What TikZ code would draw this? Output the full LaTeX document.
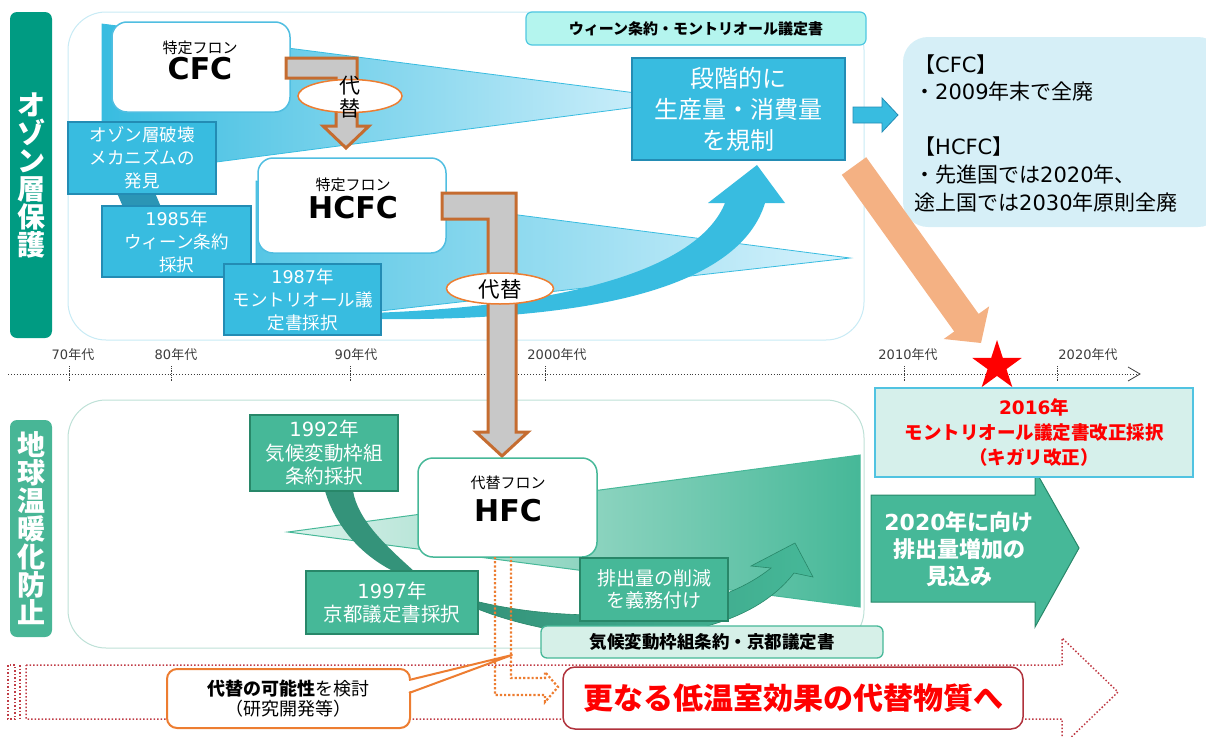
\documentclass[tikz,border=0pt]{standalone}
\usepackage{fontspec}
\setmainfont{Noto Sans CJK JP}
\newfontfamily\lat{DejaVu Sans}
\usetikzlibrary{shapes.geometric}
\newcommand\fsz[2]{\fontsize{#1}{#2}\selectfont}
\newcommand\la[1]{{\lat #1}}
\definecolor{tealD}{RGB}{0,155,130}
\definecolor{grnLab}{RGB}{72,182,150}
\definecolor{blueF}{RGB}{56,188,224}
\definecolor{blueB}{RGB}{35,140,180}
\definecolor{blueDark}{RGB}{43,149,181}
\definecolor{blueLt}{RGB}{215,242,252}
\definecolor{chemBlue}{RGB}{80,190,225}
\definecolor{greenF}{RGB}{70,184,152}
\definecolor{greenB}{RGB}{40,135,105}
\definecolor{greenDark}{RGB}{52,147,122}
\definecolor{hfcL}{RGB}{220,243,236}
\definecolor{hfcM}{RGB}{178,228,212}
\definecolor{mintF}{RGB}{214,240,232}
\definecolor{aquaF}{RGB}{180,245,238}
\definecolor{aquaB}{RGB}{80,200,225}
\definecolor{infoBg}{RGB}{214,239,247}
\definecolor{salmon}{RGB}{244,177,131}
\definecolor{grayF}{RGB}{200,200,200}
\definecolor{brownO}{RGB}{197,108,48}
\definecolor{orangeL}{RGB}{237,125,49}
\definecolor{darkRed}{RGB}{176,50,60}
\definecolor{dotRed}{RGB}{192,60,70}
\definecolor{starRed}{RGB}{255,0,0}
\definecolor{kigaliF}{RGB}{214,240,235}
\definecolor{kigaliB}{RGB}{80,195,225}
\definecolor{bgTopC}{RGB}{200,235,245}
\definecolor{bgBotC}{RGB}{190,225,215}
\definecolor{tlC}{RGB}{60,60,60}
\begin{document}
\begin{tikzpicture}[x=1pt,y=-1pt,
  bgbox/.style={rounded corners=38pt, line width=1pt, inner sep=0pt, fill=white},
  sidelabel/.style={rounded corners=7pt, text=white, align=center, inner sep=0pt, font=\fsz{28}{28}\bfseries},
  bluebox/.style={draw=blueB, fill=blueF, line width=1.3pt, text=white, align=center, inner sep=0pt, font=\fsz{17.5}{23}},
  greenbox/.style={draw=greenB, fill=greenF, line width=1.3pt, text=white, align=center, inner sep=0pt, font=\fsz{19.5}{23.5}},
  chembox/.style={fill=white, rounded corners=15pt, line width=1.5pt, inner sep=0pt},
  subtxt/.style={font=\fsz{15}{15}, inner sep=0pt},
  chemtxt/.style={font=\fsz{30}{30}\lat\bfseries, inner sep=0pt},
  alttxt/.style={font=\fsz{21}{23}, align=center, inner sep=0pt},
  altell/.style={ellipse, draw=orangeL, fill=white, line width=1.5pt, inner sep=0pt},
  grayarrow/.style={fill=grayF, draw=brownO, line width=3pt, line join=miter},
  ticklbl/.style={font=\fsz{13}{13}, text=tlC, inner sep=0pt}]
\useasboundingbox (0,0) rectangle (1206,736);

% backgrounds
\node[bgbox, draw=bgTopC, minimum width=796, minimum height=328] (topbg) at (466,176) {};
\node[bgbox, draw=bgBotC, minimum width=796, minimum height=248] (botbg) at (466,524) {};

% side labels
\node[sidelabel, fill=tealD, minimum width=42, minimum height=326] (lab1) at (31,175) {オ\\ゾ\\ン\\層\\保\\護};
\node[sidelabel, fill=grnLab, minimum width=42, minimum height=217] (lab2) at (31,528.5) {地\\球\\温\\暖\\化\\防\\止};

% wedges
\path[left color=blueF, right color=blueLt, draw=blueF, line width=0.8pt] (102,24) -- (690,100) -- (102,177) -- cycle;
\path[left color=blueF!85!white, right color=blueLt, draw=blueF, line width=0.8pt] (256,181) -- (850,258) -- (256,325) -- cycle;

% chem boxes (top)
\node[chembox, draw=chemBlue, minimum width=178, minimum height=90] (cfc) at (201,67) {};
\node[subtxt] (cfcs) at (200,48) {特定フロン};
\node[chemtxt] (cfcn) at (200,69) {CFC};
\node[chembox, draw=chemBlue, minimum width=188, minimum height=95] (hcfc) at (352,205.5) {};
\node[subtxt] (hcfcs) at (353,185) {特定フロン};
\node[chemtxt] (hcfcn) at (353,208) {HCFC};

% blue curved arrow
\path[fill=blueF] (370,313) .. controls (580,306) and (700,265) .. (725,203) -- (708,203) -- (757,165) -- (785,203) -- (765,203) .. controls (740,285) and (600,322) .. (370,319) -- cycle;

% blue boxes
\fill[blueDark] (117,193) -- (155,193) -- (161,207) -- (123,207) -- cycle;
\node[bluebox, minimum width=148, minimum height=72] (b1) at (142,158) {オゾン層破壊\\メカニズムの\\発見};
\node[bluebox, minimum width=149, minimum height=71] (b2) at (176.5,241.5) {\la{1985}年\\ウィーン条約\\採択};
\node[bluebox, minimum width=157, minimum height=71] (b3) at (302.5,299.5) {\la{1987}年\\モントリオール議\\定書採択};

% gray arrow CFC -> HCFC
\path[grayarrow] (286,58) -- (357,58) -- (357,126) -- (369,126) -- (346,148) -- (323,126) -- (336,126) -- (336,78) -- (286,78) -- cycle;
\node[altell, minimum width=104, minimum height=33] (alt1) at (350,96) {};
\node[alttxt] (alt1t) at (350,97) {代\\替};

% regulation + treaty
\node[bluebox, font=\fsz{24}{31}, minimum width=213, minimum height=102] (reg) at (738.5,109) {段階的に\\生産量・消費量\\を規制};
\node[draw=aquaB, fill=aquaF, rounded corners=6pt, line width=1.2pt, minimum width=340, minimum height=33, inner sep=0pt, font=\fsz{15}{15}\bfseries] (vienna) at (696,28.5) {ウィーン条約・モントリオール議定書};

% small arrow
\path[fill=blueF, draw=blueB, line width=0.8pt] (853,107) -- (882,107) -- (882,98) -- (898,115) -- (882,132) -- (882,123) -- (853,123) -- cycle;

% info box
\node[fill=infoBg, rounded corners=25pt, minimum width=320, minimum height=190, inner sep=0pt] (info) at (1063,132) {};
\node[anchor=west, align=left, font=\fsz{21}{27.6}, inner sep=0pt] (infot) at (914,133) {【\la{CFC}】\\・\la{2009}年末で全廃\\\mbox{}\\【\la{HCFC}】\\・先進国では\la{2020}年、\\途上国では\la{2030}年原則全廃};

% salmon arrow
\fill[salmon] (866.2,157.2) -- (978.6,313.9) -- (989.1,306.4) -- (981,343) -- (943.7,339.0) -- (954.2,331.5) -- (841.8,174.8) -- cycle;

% timeline
\draw[dotted, line width=0.9pt, tlC] (8,374) -- (1138,374);
\draw[tlC, line width=0.8pt] (1128,367) -- (1140,374) -- (1128,381);
\foreach \x/\lx/\t [count=\i] in {69/73/70, 171/176/80, 350/356/90, 545/557/2000, 904/908/2010, 1057/1088/2020}{
  \draw[densely dotted, tlC, line width=0.8pt] (\x,366) -- (\x,382);
  \node[ticklbl] (tl\i) at (\lx,355) {\la{\t}年代};
}

% gray arrow HCFC -> HFC
\path[grayarrow] (442,193) -- (516,193) -- (516,432) -- (528,432) -- (502,456) -- (476,432) -- (488,432) -- (488,219) -- (442,219) -- cycle;
\node[altell, minimum width=107, minimum height=31] (alt2) at (500,288.5) {};
\node[alttxt, font=\fsz{21.5}{23}] (alt2t) at (500,289) {代替};

% star
\node[star, star points=5, star point ratio=2.618, fill=starRed, minimum size=52, inner sep=0pt] (star) at (997,366) {};

% HFC wedge and box
\path[left color=hfcL, middle color=hfcM, right color=greenF, draw=greenF, line width=1pt] (288,532) -- (860,455) -- (860,607) -- cycle;
\node[chembox, draw=greenF, minimum width=179, minimum height=99] (hfc) at (507.5,507.5) {};
\node[subtxt] (hfcs) at (508,483) {代替フロン};
\node[chemtxt] (hfcn) at (508,511) {HFC};

% green bands
\fill[greenDark] (325,491) .. controls (335,525) and (360,555) .. (395,572) -- (415,572) .. controls (385,545) and (358,520) .. (353,491) -- cycle;
\path[left color=greenDark, right color=greenF, draw=greenB, line width=0.6pt] (475,601) .. controls (560,622) and (700,625) .. (771,568) -- (751,566) -- (795,543) -- (813,577) -- (794,573) .. controls (735,650) and (580,650) .. (475,608) -- cycle;

% green boxes
\node[greenbox, minimum width=148, minimum height=76] (g1) at (324,453) {\la{1992}年\\気候変動枠組\\条約採択};
\node[greenbox, minimum width=172, minimum height=63] (g2) at (392,602.5) {\la{1997}年\\京都議定書採択};
\node[greenbox, font=\fsz{19}{21.5}, minimum width=148, minimum height=63] (g3) at (654,589.5) {排出量の削減\\を義務付け};
\node[draw=greenF, fill=mintF, rounded corners=6pt, line width=1.3pt, minimum width=342, minimum height=32, inner sep=0pt, font=\fsz{17.5}{17.5}\bfseries] (unfccc) at (712,642) {気候変動枠組条約・京都議定書};

% big green arrow
\path[fill=greenF, draw=greenB, line width=1pt] (871,495) -- (1035,495) -- (1035,470) -- (1079,548) -- (1035,627) -- (1035,602) -- (871,602) -- cycle;
\node[font=\fsz{22}{27}\bfseries, text=white, align=center, inner sep=0pt] (inc) at (959,549) {\la{2020}年に向け\\排出量増加の\\見込み};

% Kigali box
\node[draw=kigaliB, fill=kigaliF, line width=1.5pt, minimum width=318, minimum height=89, inner sep=0pt, align=center, text=starRed, font=\fsz{18.5}{24.5}\bfseries] (kigali) at (1034,432.5) {\la{2016}年\\モントリオール議定書改正採択\\（キガリ改正）};

% bottom dotted arrow
\draw[dotted, dotRed, line width=1.5pt] (26,665) -- (1062,665) -- (1062,638) -- (1118,692) -- (1062,746) -- (1062,719) -- (26,719) -- cycle;
\draw[dotted, dotRed, line width=1.5pt] (8,665) rectangle (15,719);
\draw[dotted, dotRed, line width=1.5pt] (20,665) -- (20,719);

% orange dotted bent arrow
\draw[dotted, orangeL, line width=2.2pt] (495,557) -- (495,695) -- (545,695) -- (545,702) -- (558,687) -- (545,672) -- (545,678) -- (511,678) -- (511,557);

% callout
\node[draw=orangeL, fill=white, rounded corners=10pt, line width=2pt, minimum width=243, minimum height=59, inner sep=0pt, align=center, font=\fsz{18}{20}] (study) at (288.5,698.5) {\textbf{代替の可能性}を検討\\（研究開発等）};
\fill[white] (405,680) -- (512,655) -- (405,693) -- cycle;
\draw[orangeL, line width=2pt, line join=round] (409,680) -- (512,655) -- (409,693);

% next step box
\node[draw=darkRed, fill=white, rounded corners=12pt, line width=1.5pt, minimum width=460, minimum height=62, inner sep=0pt, text=starRed, font=\fsz{30}{30}\bfseries] (next) at (793,698) {更なる低温室効果の代替物質へ};
\end{tikzpicture}
\end{document}
